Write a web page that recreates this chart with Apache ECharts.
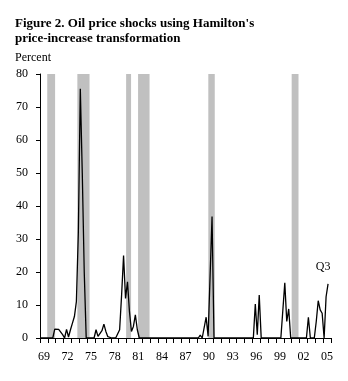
<!DOCTYPE html>
<html><head><meta charset="utf-8">
<script src="https://cdn.jsdelivr.net/npm/echarts@6/dist/echarts.min.js"></script>
<style>html,body{margin:0;padding:0;background:#fff}#c{width:348px;height:381px}</style>
</head><body><div id="c"></div>
<script>
// Year tick labels (one category per year, 1969..2005)
const yearLabels = ['69','70','71','72','73','74','75','76','77','78','79','80','81','82','83','84','85','86','87','88','89','90','91','92','93','94','95','96','97','98','99','00','01','02','03','04','05'];
const firstYear = 1969;
// Quarterly values, 1969Q1 .. 2005Q3 (percent)
const values = [
  0,0,0,0,          // 1969
  0,0,0,2.7,        // 1970
  2.2,2.6,2.6,1,    // 1971
  0,2.6,0.3,2.5,    // 1972
  4.5,6.5,11,32,    // 1973
  75.5,50,20,0,     // 1974
  0,0,0,0,          // 1975
  2.5,0.5,1,2.2,    // 1976
  4.2,2,0.4,0.8,    // 1977
  0,0,0,0,          // 1978
  2.5,13,25,12,     // 1979
  17,8,2,3.5,       // 1980
  7,2.5,0,0,        // 1981
  0,0,0,0,          // 1982
  0,0,0,0,          // 1983
  0,0,0,0,          // 1984
  0,0,0,0,          // 1985
  0,0,0,0,          // 1986
  0,0,0,0,          // 1987
  0,0,0,0,          // 1988
  0,0.9,0,0,        // 1989
  6.3,0.5,0,36.8,   // 1990
  0,0,0,0,          // 1991
  0,0,0,0,          // 1992
  0,0,0,0,          // 1993
  0,0,0,0,          // 1994
  0,0,0,0,          // 1995
  0,10.3,1,13,      // 1996
  0,0,0,0,          // 1997
  0,0,0,0,          // 1998
  0,0,0,0,          // 1999
  16.7,5,8.8,0,     // 2000
  0,0,0,0,          // 2001
  0,0,0,0,          // 2002
  6.3,0,0,0,        // 2003
  5,11.3,8.5,7.5,   // 2004
  0,12.5,16.4       // 2005 (Q1-Q3)
];
// Recession periods (decimal years)
const recessions = [[1969.92,1970.92],[1973.75,1975.3],[1979.95,1980.58],[1981.47,1982.93],[1990.4,1991.22],[2001.0,2001.87]];
const yTicks = {min:0, max:80, interval:10};

const serif = 'Liberation Serif';
const lineData = values.map((v,i)=>[firstYear + (i+0.5)/4, v]);
const last = lineData[lineData.length-1];

const chart = echarts.init(document.getElementById('c'), null, {renderer:'canvas'});
chart.setOption({
  animation:false,
  backgroundColor:'#fff',
  title:[
    {text:"Figure 2. Oil price shocks using Hamilton's\nprice-increase transformation", left:15, top:16, padding:0,
     textStyle:{fontFamily:serif, fontSize:13, fontWeight:'bold', lineHeight:15, color:'#000'}},
    {text:'Percent', left:15, top:51, padding:0, textStyle:{fontFamily:serif, fontSize:12, fontWeight:'normal', lineHeight:14, color:'#000'}}
  ],
  grid:{left:40, right:17, top:74, bottom:43},
  xAxis:[
    {type:'value', min:firstYear, max:firstYear+yearLabels.length, show:false},
    {type:'category', data:yearLabels, boundaryGap:true, position:'bottom',
     axisLine:{lineStyle:{color:'#000', width:1}},
     axisTick:{show:true, interval:0, length:5, lineStyle:{color:'#000'}},
     axisLabel:{interval:2, margin:13, fontFamily:serif, fontSize:12, color:'#000'},
     splitLine:{show:false}}
  ],
  yAxis:{type:'value', min:yTicks.min, max:yTicks.max, interval:yTicks.interval,
    axisLine:{show:true, lineStyle:{color:'#000', width:1}},
    axisTick:{show:true, length:4, lineStyle:{color:'#000'}},
    axisLabel:{margin:12, fontFamily:serif, fontSize:12, color:'#000'},
    splitLine:{show:false}},
  series:[{
    type:'line', xAxisIndex:0, data:lineData, symbol:'none',
    lineStyle:{color:'#000', width:1.3},
    markArea:{silent:true, itemStyle:{color:'#c0c0c0'},
      data:recessions.map(r=>[{xAxis:r[0]},{xAxis:r[1]}])},
    markPoint:{silent:true, symbol:'circle', symbolSize:1, itemStyle:{color:'rgba(0,0,0,0)'},
      label:{show:true, formatter:'Q3', position:'inside', offset:[-5,-17], fontFamily:serif, fontSize:12, color:'#000'},
      data:[{coord:last}]}
  }]
});
</script></body></html>
